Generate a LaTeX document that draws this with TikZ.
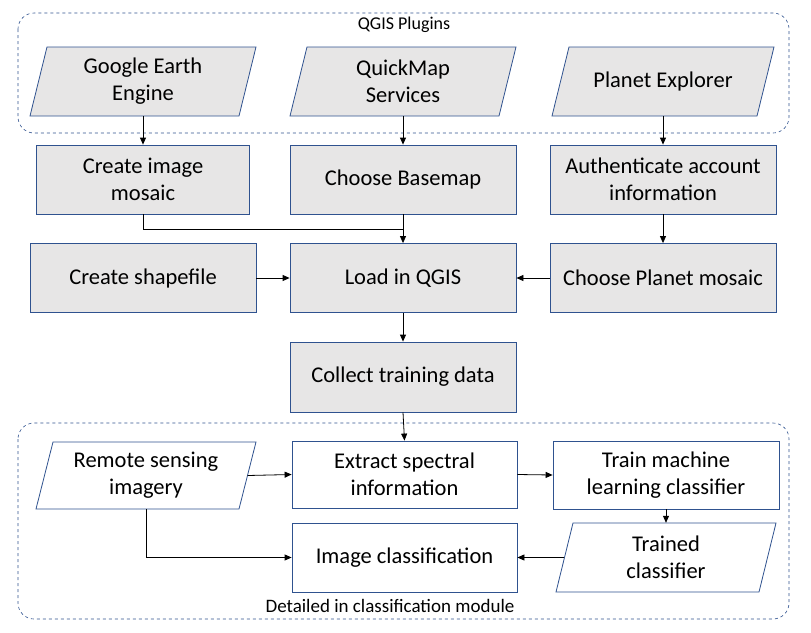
\documentclass[tikz,border=0pt]{standalone}
\usepackage{fontspec}
\setmainfont{Carlito}
\usetikzlibrary{arrows.meta}
\definecolor{boxgray}{HTML}{E7E6E6}
\definecolor{boxline}{HTML}{2F528F}

\tikzset{
    grey box/.style={rectangle,draw=boxline,fill=boxgray,line width=0.8pt,minimum width=226,minimum height=69,align=center,font=\fontsize{22.5}{27}\selectfont,inner sep=0},
    white box/.style={grey box,fill=white},
    data/.style={rectangle,minimum width=209,minimum height=69,align=center,font=\fontsize{22.5}{27}\selectfont,inner sep=0},
    frame/.style={draw=boxline,line width=0.8pt},
    group/.style={draw=boxline,dashed,line width=0.6pt,rounded corners=16},
    flow/.style={-{Triangle[length=7pt,width=6pt]},line width=0.8pt},
    note/.style={font=\fontsize{18}{20}\selectfont}
    }

% parallelogram round a data node: fill, x, y, width, height
\newcommand{\dataframe}[5]{%
    \filldraw[frame,fill=#1] ({#2-#4/2+8.5},{#3-#5/2}) -- ({#2+#4/2+8.5},{#3-#5/2})
        -- ({#2+#4/2-8.5},{#3+#5/2}) -- ({#2-#4/2-8.5},{#3+#5/2}) -- cycle;}

\begin{document}
\begin{tikzpicture}[x=1pt,y=-1pt]
                \useasboundingbox (0,0) rectangle (811,632);
                % groups
                \draw[group] (18,13) rectangle (789,133);
                \draw[group] (18,423) rectangle (789,619);
                \node(plugins)[note] at (404,25){QGIS Plugins};
                \node(module)[note, font=\fontsize{19}{21}\selectfont] at (390,606){Detailed in classification module};
                % plugins
                \dataframe{boxgray}{143}{81.5}{209}{69}
                \dataframe{boxgray}{403}{81.5}{209}{69}
                \dataframe{boxgray}{663}{81.5}{205}{69}
                \node(gee)[data] at (143,81.5){Google Earth\\Engine};
                \node(qms)[data] at (403,81.5){QuickMap\\Services};
                \node(pex)[data] at (663,81.5){Planet Explorer};
                % preparation
                \node(mosaic)[grey box, minimum width=213] at (143,179.5){Create image\\mosaic};
                \node(basemap)[grey box] at (403,179.5){Choose Basemap};
                \node(auth)[grey box] at (663,179.5){Authenticate account\\information};
                \node(shape)[grey box] at (143,278){Create shapefile};
                \node(load)[grey box] at (403,278){Load in QGIS};
                \node(planet)[grey box] at (663,278){Choose Planet mosaic};
                \node(collect)[grey box, minimum height=70] at (403,377){Collect training data};
                % classification
                \dataframe{white}{146}{475.5}{203}{67}
                \dataframe{white}{666}{557.5}{203}{69}
                \node(imagery)[data, minimum width=203, minimum height=67] at (146,475.5){Remote sensing\\imagery};
                \node(extract)[white box, minimum width=225, minimum height=67] at (404.5,474.5){Extract spectral\\information};
                \node(train)[white box, minimum height=68] at (666,475){Train machine\\learning classifier};
                \node(trained)[data, minimum width=203] at (666,557.5){Trained\\classifier};
                \node(classify)[white box, minimum width=225] at (404.5,557.5){Image classification};
                % connectors
                \draw[flow] (gee.south) -- (mosaic.north);
                \draw[flow] (qms.south) -- (basemap.north);
                \draw[flow] (pex.south) -- (auth.north);
                \draw[line width=0.8pt] (mosaic.south) |- (403,229);
                \draw[flow] (basemap.south) -- (load.north);
                \draw[flow] (auth.south) -- (planet.north);
                \draw[flow] (shape.east) -- (load.west);
                \draw[flow] (planet.west) -- (load.east);
                \draw[flow] (load.south) -- (collect.north);
                \draw[flow] (collect.south) -- (extract.north);
                \draw[flow] (imagery.east) -- (extract.west);
                \draw[flow] (extract.east) -- (train.west);
                \draw[flow] (train.south) -- (trained.north);
                \draw[flow] (trained.west) -- (classify.east);
                \draw[flow] (imagery.south) |- (classify.west);
            \end{tikzpicture}
\end{document}
